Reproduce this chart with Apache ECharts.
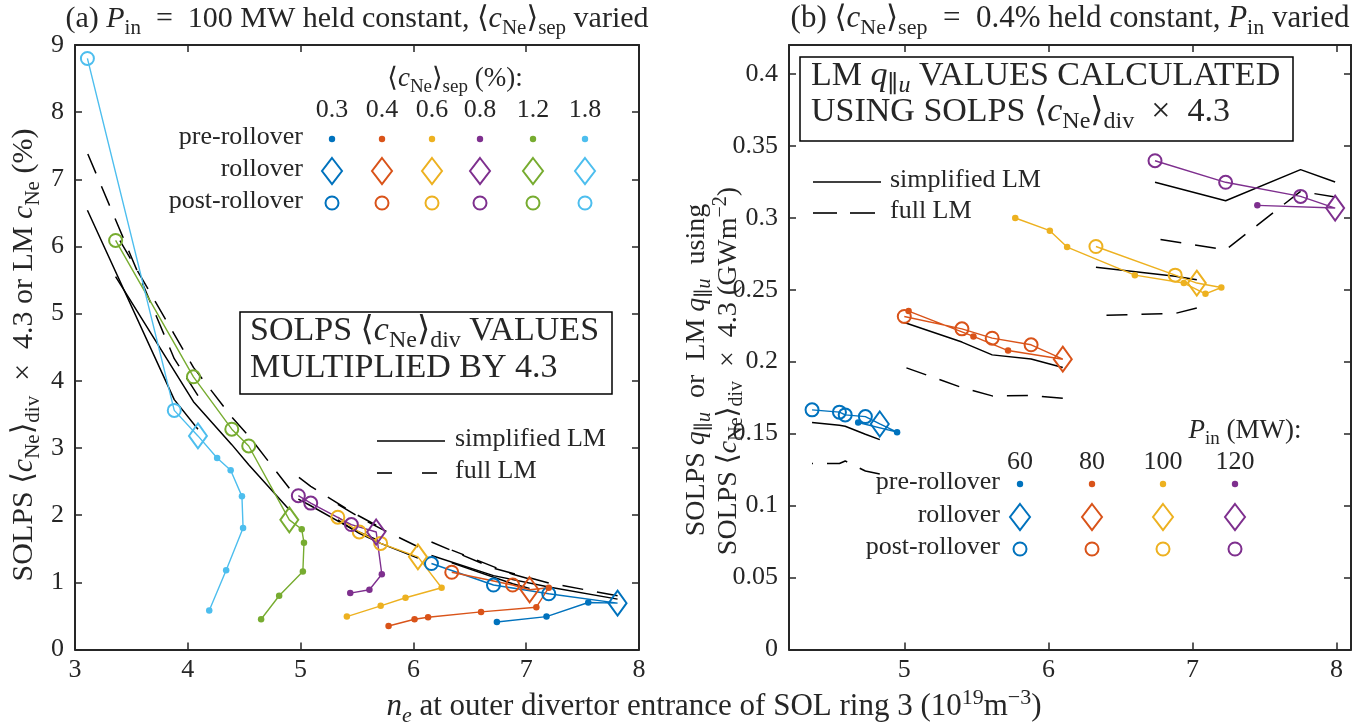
<!DOCTYPE html>
<html>
<head>
<meta charset="utf-8">
<script src="https://cdn.jsdelivr.net/npm/echarts@6/dist/echarts.min.js"></script>
<style>
  html, body { margin: 0; padding: 0; background: #ffffff; }
  #chart { width: 1362px; height: 727px; }
</style>
</head>
<body>
<div id="chart"></div>
<script>
// ---------- labels ----------
const sepLabels = ['0.3', '0.4', '0.6', '0.8', '1.2', '1.8'];
const powerLabels = ['60', '80', '100', '120'];
const rowLabels = ['pre-rollover', 'rollover', 'post-rollover'];
const ticksAx = [3, 4, 5, 6, 7, 8];
const ticksAy = [0, 1, 2, 3, 4, 5, 6, 7, 8, 9];
const ticksBx = [5, 6, 7, 8];
const ticksBy = [0, 0.05, 0.1, 0.15, 0.2, 0.25, 0.3, 0.35, 0.4];

// ---------- panel (a): P_in = 100 MW, [n_e, c_Ne (%)] ----------
// LM arrays hold the model value at each rollover / post-rollover point, in that order
const a03Pre = [[6.74, 0.41], [7.18, 0.49], [7.55, 0.70]];
const a03Roll = [[7.81, 0.69]];
const a03Post = [[7.20, 0.83], [6.71, 0.96], [6.16, 1.28]];
const a03Simple = [0.75, 0.93, 1.10, 1.40];
const a03Full = [0.80, 0.99, 1.21, 1.60];

const a04Pre = [[5.78, 0.35], [6.01, 0.45], [6.13, 0.48], [6.60, 0.56], [7.09, 0.63], [7.20, 0.92]];
const a04Roll = [[7.03, 0.89]];
const a04Post = [[6.88, 0.96], [6.34, 1.15]];
const a04Simple = [0.91, 0.98, 1.29];
const a04Full = [1.05, 1.12, 1.48];

const a06Pre = [[5.41, 0.49], [5.71, 0.65], [5.93, 0.77], [6.25, 0.92]];
const a06Roll = [[6.04, 1.38]];
const a06Post = [[5.71, 1.58], [5.52, 1.75], [5.33, 1.97]];
const a06Simple = [1.36, 1.58, 1.73, 1.93];
const a06Full = [1.53, 1.80, 1.97, 2.16];

const a08Pre = [[5.44, 0.84], [5.61, 0.89], [5.72, 1.12]];
const a08Roll = [[5.67, 1.75]];
const a08Post = [[5.45, 1.86], [5.09, 2.18], [4.98, 2.29]];
const a08Simple = [1.64, 1.80, 2.14, 2.24];
const a08Full = [1.85, 2.05, 2.43, 2.57];

const a12Pre = [[4.65, 0.45], [4.81, 0.80], [5.02, 1.16], [5.03, 1.59], [5.01, 1.79]];
const a12Roll = [[4.90, 1.93]];
const a12Post = [[4.54, 3.03], [4.39, 3.28], [4.05, 4.06], [3.36, 6.09]];
const a12Simple = [2.08, 2.75, 3.05, 3.69, 5.55];
const a12Full = [2.40, 3.18, 3.46, 4.20, 6.20];

const a18Pre = [[4.19, 0.58], [4.34, 1.18], [4.49, 1.81], [4.48, 2.28], [4.38, 2.67], [4.26, 2.85]];
const a18Roll = [[4.09, 3.18]];
const a18Post = [[3.88, 3.56], [3.11, 8.80]];
const a18Simple = [3.28, 3.72, 6.54];
const a18Full = [3.78, 4.33, 7.39];

// ---------- panel (b): <c_Ne>_sep = 0.4 %, [n_e, q (GW m^-2)] ----------
const b60Pre = [[4.68, 0.1577], [4.95, 0.1510]];
const b60Roll = [[4.83, 0.1567]];
const b60Post = [[4.73, 0.1618], [4.59, 0.1630], [4.55, 0.1649], [4.36, 0.1665]];
const b60Simple = [0.1458, 0.1496, 0.1551, 0.1558, 0.1577];
const b60Full = [0.1220, 0.1240, 0.1310, 0.1292, 0.1292];

const b80Pre = [[5.03, 0.2351], [5.48, 0.2175], [5.72, 0.2077]];
const b80Roll = [[6.10, 0.2017]];
const b80Post = [[5.88, 0.2117], [5.61, 0.2163], [5.40, 0.2228], [5.00, 0.2314]];
const b80Simple = [0.1959, 0.2019, 0.2047, 0.2136, 0.2272];
const b80Full = [0.1746, 0.1765, 0.1762, 0.1820, 0.1962];

const b100Pre = [[5.77, 0.2998], [6.01, 0.2910], [6.13, 0.2796], [6.60, 0.2601], [6.94, 0.2546], [7.09, 0.2471], [7.20, 0.2515]];
const b100Roll = [[7.03, 0.2546]];
const b100Post = [[6.88, 0.2601], [6.33, 0.2800]];
const b100Simple = [0.2569, 0.2593, 0.2655];
const b100Full = [0.2372, 0.2335, 0.2321];

const b120Pre = [[7.45, 0.3086]];
const b120Roll = [[7.99, 0.3067]];
const b120Post = [[7.75, 0.3148], [7.23, 0.3246], [6.74, 0.3396]];
const b120Simple = [0.3248, 0.3334, 0.3118, 0.3246];
const b120Full = [0.3144, 0.3183, 0.2777, 0.2854];

// ---------- style ----------
const FONT = "'Liberation Serif', 'DejaVu Serif', serif";
const INK = '#262626';
const COL = {
  blue: '#0072BD', red: '#D95319', yellow: '#EDB120',
  purple: '#7E2F8E', green: '#77AC30', cyan: '#4DBEEE'
};
const colorsA = [COL.blue, COL.red, COL.yellow, COL.purple, COL.green, COL.cyan];
const colorsB = [COL.blue, COL.red, COL.yellow, COL.purple];
const DASH = [21, 14];
const TICK_FONT = 26;
const KEY_FONT = 26;
const TITLE_FONT = 30;
const BOX_FONT = 34;

const scansA = [
  { pre: a03Pre, roll: a03Roll, post: a03Post, simple: a03Simple, full: a03Full },
  { pre: a04Pre, roll: a04Roll, post: a04Post, simple: a04Simple, full: a04Full },
  { pre: a06Pre, roll: a06Roll, post: a06Post, simple: a06Simple, full: a06Full },
  { pre: a08Pre, roll: a08Roll, post: a08Post, simple: a08Simple, full: a08Full },
  { pre: a12Pre, roll: a12Roll, post: a12Post, simple: a12Simple, full: a12Full },
  { pre: a18Pre, roll: a18Roll, post: a18Post, simple: a18Simple, full: a18Full }
];
const scansB = [
  { pre: b60Pre, roll: b60Roll, post: b60Post, simple: b60Simple, full: b60Full },
  { pre: b80Pre, roll: b80Roll, post: b80Post, simple: b80Simple, full: b80Full },
  { pre: b100Pre, roll: b100Roll, post: b100Post, simple: b100Simple, full: b100Full },
  { pre: b120Pre, roll: b120Roll, post: b120Post, simple: b120Simple, full: b120Full }
];

// One scan: LM model curves, SOLPS trajectory line and its three marker kinds
function scanSeries(scan, color, xi, yi) {
  const rollPost = scan.roll.concat(scan.post);
  const path = scan.pre.concat(rollPost);
  const lmX = rollPost.map(p => p[0]);
  const base = { xAxisIndex: xi, yAxisIndex: yi, silent: true, animation: false };
  return [
    Object.assign({}, base, {
      type: 'line', z: 2, showSymbol: false, symbol: 'none',
      data: lmX.map((x, k) => [x, scan.simple[k]]),
      lineStyle: { color: '#000000', width: 1.5 }
    }),
    Object.assign({}, base, {
      type: 'line', z: 2, showSymbol: false, symbol: 'none',
      data: lmX.map((x, k) => [x, scan.full[k]]),
      lineStyle: { color: '#000000', width: 1.5, type: DASH }
    }),
    Object.assign({}, base, {
      type: 'line', z: 3, showSymbol: false, symbol: 'none',
      data: path,
      lineStyle: { color: color, width: 1.4 }
    }),
    Object.assign({}, base, {
      type: 'scatter', z: 4, symbol: 'circle', symbolSize: 6.5,
      data: scan.pre, itemStyle: { color: color, opacity: 1 }
    }),
    Object.assign({}, base, {
      type: 'scatter', z: 4, symbol: 'diamond', symbolSize: [18, 25],
      data: scan.roll,
      itemStyle: { color: 'rgba(255,255,255,0)', borderColor: color, borderWidth: 2, opacity: 1 }
    }),
    Object.assign({}, base, {
      type: 'scatter', z: 4, symbol: 'circle', symbolSize: 13,
      data: scan.post,
      itemStyle: { color: 'rgba(255,255,255,0)', borderColor: color, borderWidth: 2, opacity: 1 }
    })
  ];
}

function valueAxis(grid, pos, min, max, ticks, showLabels, margin) {
  return {
    type: 'value', gridIndex: grid, position: pos, min: min, max: max,
    axisLine: { show: true, onZero: false, lineStyle: { color: INK, width: 2 } },
    axisTick: { show: true, inside: true, length: 7, customValues: ticks, lineStyle: { color: INK, width: 1.5 } },
    axisLabel: {
      show: showLabels, customValues: ticks, margin: margin,
      fontFamily: FONT, fontSize: TICK_FONT, color: INK
    },
    splitLine: { show: false },
    axisPointer: { show: false }
  };
}

// ---------- rich text helpers ----------
function tok(size, extra) {
  return Object.assign({ fontFamily: FONT, fontSize: size, fill: INK, color: INK }, extra || {});
}
function richSet(base) {
  const sub = Math.round(base * 0.7);
  const lh = Math.round(base * 1.3);
  return {
    t: tok(base, { lineHeight: lh }),
    i: tok(base, { lineHeight: lh, fontStyle: 'italic' }),
    s: tok(sub, { lineHeight: sub, verticalAlign: 'bottom' }),
    si: tok(sub, { lineHeight: sub, verticalAlign: 'bottom', fontStyle: 'italic' }),
    u: tok(sub, { lineHeight: sub, verticalAlign: 'top' })
  };
}
function textEl(str, x, y, opt) {
  opt = opt || {};
  const size = opt.size || KEY_FONT;
  return {
    type: 'text', x: x, y: y, rotation: opt.rot || 0, silent: true, z: 20,
    style: {
      text: str, rich: richSet(size), fill: INK,
      fontFamily: FONT, fontSize: size,
      align: opt.align || 'center', verticalAlign: 'middle'
    }
  };
}
function diamondEl(x, y, color) {
  return {
    type: 'polygon', silent: true, z: 20,
    shape: { points: [[x, y - 13], [x + 10, y], [x, y + 13], [x - 10, y]] },
    style: { fill: 'none', stroke: color, lineWidth: 2 }
  };
}
function dotEl(x, y, color) {
  return { type: 'circle', silent: true, z: 20, shape: { cx: x, cy: y, r: 3.2 }, style: { fill: color } };
}
function ringEl(x, y, color) {
  return { type: 'circle', silent: true, z: 20, shape: { cx: x, cy: y, r: 6.5 }, style: { fill: 'none', stroke: color, lineWidth: 2 } };
}
function segEl(x1, x2, y) {
  return { type: 'line', silent: true, z: 20, shape: { x1: x1, y1: y, x2: x2, y2: y }, style: { stroke: '#000000', lineWidth: 1.6 } };
}
function boxEl(x, y, w, h) {
  return { type: 'rect', silent: true, z: 15, shape: { x: x, y: y, width: w, height: h }, style: { fill: '#ffffff', stroke: '#000000', lineWidth: 1.5 } };
}

// ---------- annotations ----------
const graphics = [];
graphics.push(textEl('{t|(a) }{i|P}{s|in}{t|  =  100 MW held constant, ⟨}{i|c}{s|Ne}{t|⟩}{s|sep}{t| varied}', 357, 19, { size: TITLE_FONT }));
graphics.push(textEl('{t|(b) ⟨}{i|c}{s|Ne}{t|⟩}{s|sep}{t|  =  0.4% held constant, }{i|P}{s|in}{t| varied}', 1070, 19, { size: 31 }));
graphics.push(textEl('{i|n}{si|e}{t| at outer divertor entrance of SOL ring 3 (10}{u|19}{t|m}{u|−3}{t|)}', 714, 707, { size: 31 }));
graphics.push(textEl('{t|SOLPS ⟨}{i|c}{s|Ne}{t|⟩}{s|div}{t|  ×  4.3 or LM }{i|c}{s|Ne}{t| (%)}', 24, 355, { rot: Math.PI / 2, size: 30 }));
graphics.push(textEl('{t|SOLPS }{i|q}{s|∥}{si|u}{t|  or  LM }{i|q}{s|∥}{si|u}{t|  using}', 697, 370, { rot: Math.PI / 2, size: 28 }));
graphics.push(textEl('{t|SOLPS ⟨}{i|c}{s|Ne}{t|⟩}{s|div}{t|  ×  4.3 (GWm}{u|−2}{t|)}', 729, 371, { rot: Math.PI / 2, size: 28 }));

// boxed notes
graphics.push(boxEl(240, 312, 372, 82));
graphics.push(textEl('{t|SOLPS ⟨}{i|c}{s|Ne}{t|⟩}{s|div}{t| VALUES}', 250, 331, { size: BOX_FONT, align: 'left' }));
graphics.push(textEl('{t|MULTIPLIED BY 4.3}', 250, 368, { size: BOX_FONT, align: 'left' }));
graphics.push(boxEl(800, 57, 493, 84));
graphics.push(textEl('{t|LM }{i|q}{s|∥}{si|u}{t| VALUES CALCULATED}', 811, 76, { size: BOX_FONT, align: 'left' }));
graphics.push(textEl('{t|USING SOLPS ⟨}{i|c}{s|Ne}{t|⟩}{s|div}{t|  ×  4.3}', 811, 112, { size: BOX_FONT, align: 'left' }));

// LM line-style keys
graphics.push(segEl(377, 445, 441));
graphics.push(segEl(377, 392, 473), segEl(422, 437, 473));
graphics.push(textEl('{t|simplified LM}', 455, 439, { align: 'left' }));
graphics.push(textEl('{t|full LM}', 455, 471, { align: 'left' }));
graphics.push(segEl(813, 881, 182));
graphics.push(segEl(813, 837, 213), segEl(850, 875, 213));
graphics.push(textEl('{t|simplified LM}', 890, 180, { align: 'left' }));
graphics.push(textEl('{t|full LM}', 890, 211, { align: 'left' }));

// marker key, panel (a)
const keyAx = [332, 382, 432, 480, 533, 585];
const keyAy = [139, 171, 203];
graphics.push(textEl('{t|⟨}{i|c}{s|Ne}{t|⟩}{s|sep}{t| (%):}', 455, 79, { size: 27 }));
sepLabels.forEach((s, k) => {
  graphics.push(textEl('{t|' + s + '}', keyAx[k], 110));
  graphics.push(dotEl(keyAx[k], keyAy[0], colorsA[k]));
  graphics.push(diamondEl(keyAx[k], keyAy[1], colorsA[k]));
  graphics.push(ringEl(keyAx[k], keyAy[2], colorsA[k]));
});
rowLabels.forEach((s, k) => graphics.push(textEl('{t|' + s + '}', 303, keyAy[k] - 2, { align: 'right' })));

// marker key, panel (b)
const keyBx = [1020, 1092, 1163, 1235];
const keyBy = [484, 517, 549];
graphics.push(textEl('{i|P}{s|in}{t| (MW):}', 1245, 431, { size: 27 }));
powerLabels.forEach((s, k) => {
  graphics.push(textEl('{t|' + s + '}', keyBx[k], 462));
  graphics.push(dotEl(keyBx[k], keyBy[0], colorsB[k]));
  graphics.push(diamondEl(keyBx[k], keyBy[1], colorsB[k]));
  graphics.push(ringEl(keyBx[k], keyBy[2], colorsB[k]));
});
rowLabels.forEach((s, k) => graphics.push(textEl('{t|' + s + '}', 1000, keyBy[k] - 2, { align: 'right' })));

// ---------- chart ----------
const series = [];
scansA.forEach((sc, k) => series.push(...scanSeries(sc, colorsA[k], 0, 0)));
scansB.forEach((sc, k) => series.push(...scanSeries(sc, colorsB[k], 2, 2)));

const chart = echarts.init(document.getElementById('chart'), null, { renderer: 'canvas' });
chart.setOption({
  animation: false,
  backgroundColor: '#ffffff',
  grid: [
    { left: 75, top: 45, width: 564, height: 604.5, containLabel: false },
    { left: 789, top: 45, width: 562, height: 604.5, containLabel: false }
  ],
  xAxis: [
    valueAxis(0, 'bottom', 3, 8, ticksAx, true, 8),
    valueAxis(0, 'top', 3, 8, ticksAx, false, 8),
    valueAxis(1, 'bottom', 4.2, 8.1, ticksBx, true, 8),
    valueAxis(1, 'top', 4.2, 8.1, ticksBx, false, 8)
  ],
  yAxis: [
    valueAxis(0, 'left', 0, 9, ticksAy, true, 11),
    valueAxis(0, 'right', 0, 9, ticksAy, false, 8),
    valueAxis(1, 'left', 0, 0.42, ticksBy, true, 11),
    valueAxis(1, 'right', 0, 0.42, ticksBy, false, 8)
  ],
  series: series,
  graphic: graphics
});
</script>
</body>
</html>
